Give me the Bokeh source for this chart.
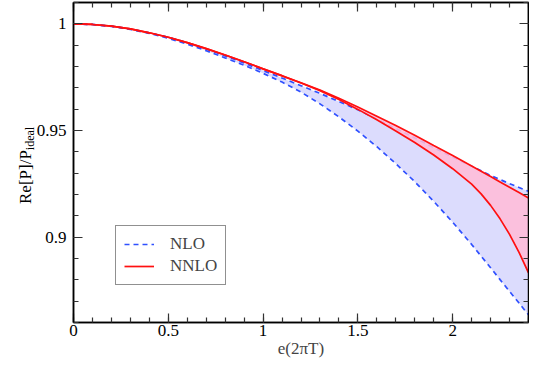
import math
from bokeh.plotting import figure
from bokeh.models import (Range1d, LinearAxis, FixedTicker, Legend, LegendItem, Label)
from bokeh.embed import file_html
from bokeh.resources import INLINE

# ---------------- data ----------------
x_vals = [0.0, 0.1, 0.2, 0.3, 0.4, 0.5, 0.6, 0.7, 0.8, 0.9, 1.0, 1.1, 1.2, 1.3,
          1.4, 1.5, 1.6, 1.7, 1.8, 1.9, 2.0, 2.1, 2.15, 2.2, 2.25, 2.3, 2.35, 2.4]

nlo_upper = [1.0000, 0.9997, 0.9989, 0.9976, 0.9958, 0.9937, 0.9911, 0.9882, 0.9850,
             0.9816, 0.9781, 0.9746, 0.9710, 0.9674, 0.9636, 0.9597, 0.9554, 0.9510,
             0.9465, 0.9420, 0.9376, 0.9332, 0.9311, 0.9289, 0.9270, 0.9251, 0.9233, 0.9215]

nlo_lower = [1.0000, 0.9997, 0.9988, 0.9974, 0.9955, 0.9932, 0.9905, 0.9874, 0.9840,
             0.9806, 0.9768, 0.9727, 0.9680, 0.9625, 0.9564, 0.9497, 0.9424, 0.9345,
             0.9260, 0.9168, 0.9070, 0.8966, 0.8911, 0.8857, 0.8801, 0.8746, 0.8691, 0.8636]

nnlo_upper = [1.0000, 0.9997, 0.9989, 0.9976, 0.9958, 0.9937, 0.9912, 0.9884, 0.9854,
              0.9822, 0.9789, 0.9757, 0.9724, 0.9690, 0.9651, 0.9610, 0.9567, 0.9523,
              0.9478, 0.9430, 0.9383, 0.9334, 0.9309, 0.9284, 0.9259, 0.9234, 0.9209, 0.9184]

nnlo_lower = [1.0000, 0.9997, 0.9989, 0.9976, 0.9958, 0.9937, 0.9912, 0.9884, 0.9854,
              0.9822, 0.9789, 0.9756, 0.9723, 0.9687, 0.9645, 0.9599, 0.9550, 0.9498,
              0.9444, 0.9385, 0.9321, 0.9249, 0.9203, 0.9149, 0.9086, 0.9013, 0.8929, 0.8833]

series_labels = ["NLO", "NNLO"]

x_ticks = [0, 0.5, 1, 1.5, 2]
x_tick_labels = ["0", "0.5", "1", "1.5", "2"]
y_ticks = [0.9, 0.95, 1.0]
y_tick_labels = ["0.9", "0.95", "1"]

x_label = "e(2\u03c0T)"
y_label_main = "Re[P]/P"
y_label_sub = "ideal"

# ---------------- styling / layout ----------------
FONT = "Liberation Serif"
BLUE = "#2f50ff"
RED = "#ff1010"
LAVENDER = "#dcdcfd"
PINK = "#ffbcd8"

X0, X1 = 0.0, 2.4
Y0, Y1 = 0.86, 1.01

W, H = 529, 362
BL, BR, BT, BB = 59, 1, 2, 40

p = figure(width=W, height=H, output_backend="svg", toolbar_location=None,
           x_range=Range1d(X0, X1), y_range=Range1d(Y0, Y1),
           min_border_left=BL, min_border_right=BR, min_border_top=BT,
           min_border_bottom=BB)
p.grid.visible = False
p.outline_line_color = "black"
p.outline_line_width = 1.5
p.background_fill_color = "white"
p.border_fill_color = "white"

x_minor = [i / 10 for i in range(0, 25)]
y_minor = [0.86 + i / 100 for i in range(0, 16)]

x_ticker = FixedTicker(ticks=x_ticks, minor_ticks=x_minor)
y_ticker = FixedTicker(ticks=y_ticks, minor_ticks=y_minor)


def style_axis(ax, show_labels):
    ax.axis_line_color = "black"
    ax.axis_line_width = 1.5
    ax.major_tick_in = 9
    ax.major_tick_out = 0
    ax.minor_tick_in = 5
    ax.minor_tick_out = 0
    ax.major_tick_line_color = "#333333"
    ax.minor_tick_line_color = "#333333"
    ax.major_tick_line_width = 1.2
    ax.minor_tick_line_width = 1.2
    ax.major_label_text_font = FONT
    ax.axis_label_text_font = FONT
    ax.axis_label_text_font_style = "normal"
    if show_labels:
        ax.major_label_text_font_size = "17px"
        ax.major_label_text_color = "black"
    else:
        ax.major_label_text_font_size = "0px"
        ax.major_label_standoff = 0
        ax.axis_label_standoff = 0


xa = p.xaxis[0]
xa.ticker = x_ticker
xa.major_label_overrides = {t: s for t, s in zip(x_ticks, x_tick_labels)}
style_axis(xa, True)
xa.major_label_standoff = 2
xa.axis_label = x_label
xa.axis_label_text_font_size = "17px"
xa.axis_label_standoff = 0

ya = p.yaxis[0]
ya.ticker = y_ticker
ya.major_label_overrides = {t: s for t, s in zip(y_ticks, y_tick_labels)}
style_axis(ya, True)
ya.major_label_standoff = 7

top = LinearAxis(ticker=x_ticker)
style_axis(top, False)
top.major_label_overrides = {t: "" for t in x_ticks}
p.add_layout(top, "above")

right = LinearAxis(ticker=y_ticker)
style_axis(right, False)
right.major_label_overrides = {t: "" for t in y_ticks}
p.add_layout(right, "right")

# ---------------- bands and curves ----------------
p.varea(x=x_vals, y1=nlo_lower, y2=nlo_upper, fill_color=LAVENDER, fill_alpha=1.0)
r_nlo_u = p.line(x_vals, nlo_upper, line_color=BLUE, line_width=1.7, line_dash="5 4")
r_nlo_l = p.line(x_vals, nlo_lower, line_color=BLUE, line_width=1.7, line_dash="5 4")
p.varea(x=x_vals, y1=nnlo_lower, y2=nnlo_upper, fill_color=PINK, fill_alpha=0.88)
r_nnlo_u = p.line(x_vals, nnlo_upper, line_color=RED, line_width=1.7)
r_nnlo_l = p.line(x_vals, nnlo_lower, line_color=RED, line_width=1.7)

# ---------------- legend ----------------
legend = Legend(items=[LegendItem(label=series_labels[0], renderers=[r_nlo_u]),
                       LegendItem(label=series_labels[1], renderers=[r_nnlo_u])],
                location=(42, 37))
legend.label_text_font = FONT
legend.label_text_font_size = "17px"
legend.glyph_width = 30
legend.glyph_height = 20
legend.label_standoff = 16
legend.label_height = 20
legend.padding = 8
legend.spacing = 2
legend.margin = 0
legend.border_line_color = "#222222"
legend.border_line_width = 1.2
legend.background_fill_color = "white"
legend.background_fill_alpha = 1.0
p.add_layout(legend, "center")

# ---------------- y axis label with subscript (left panel) ----------------
frame_w_est = 466
frame_h_est = 311
px_per_x = frame_w_est / (X1 - X0)
px_per_y = frame_h_est / (Y1 - Y0)
baseline_x = X0 - 49 / px_per_x
junction_y = (Y0 + Y1) / 2 + 12 / px_per_y
main = Label(x=baseline_x, y=junction_y, text=y_label_main, angle=math.pi / 2,
             text_align="right", text_baseline="alphabetic",
             text_font=FONT, text_font_size="17px", text_color="black")
sub = Label(x=baseline_x + 4 / px_per_x, y=junction_y, text=y_label_sub,
            angle=math.pi / 2, text_align="left", text_baseline="alphabetic",
            text_font=FONT, text_font_size="12px", text_color="black")
p.add_layout(main, "left")
p.add_layout(sub, "left")

open("out.html", "w").write(file_html(p, INLINE))
